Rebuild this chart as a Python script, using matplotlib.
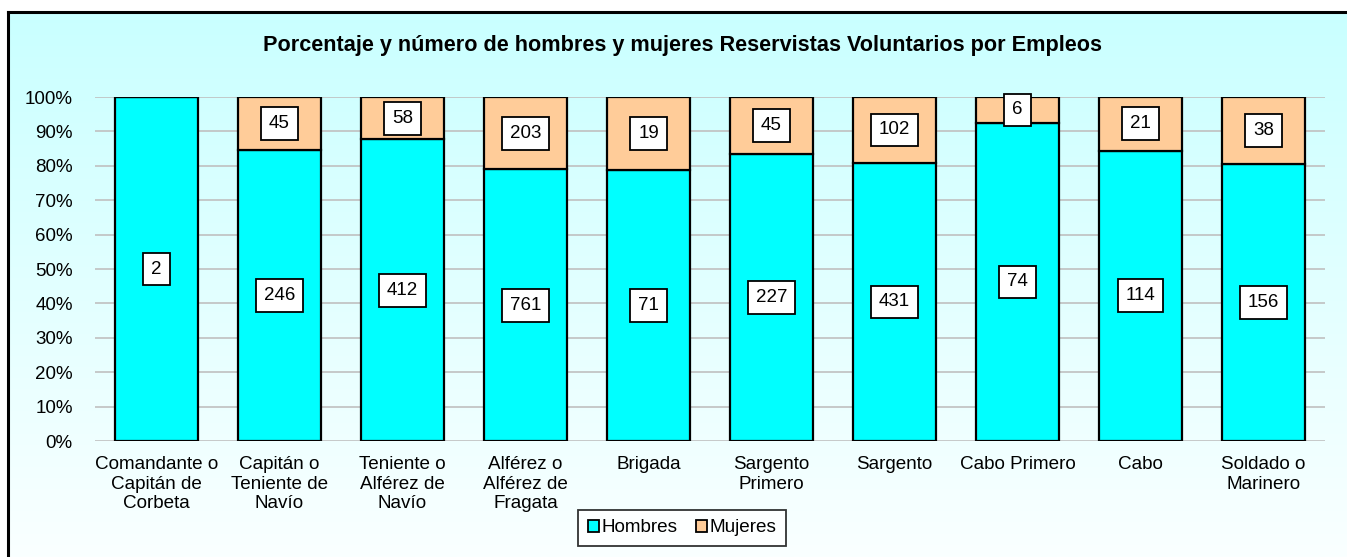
import matplotlib
matplotlib.use("Agg")
import matplotlib.pyplot as plt
import numpy as np
from matplotlib.patches import Rectangle

categories = ["Comandante o\nCapitán de\nCorbeta", "Capitán o\nTeniente de\nNavío",
              "Teniente o\nAlférez de\nNavío", "Alférez o\nAlférez de\nFragata",
              "Brigada", "Sargento\nPrimero", "Sargento", "Cabo Primero", "Cabo",
              "Soldado o\nMarinero"]
hombres = [2, 246, 412, 761, 71, 227, 431, 74, 114, 156]
mujeres = [0, 45, 58, 203, 19, 45, 102, 6, 21, 38]
title = "Porcentaje y número de hombres y mujeres Reservistas Voluntarios por Empleos"

plt.rcParams['font.family'] = ['Liberation Sans', 'DejaVu Sans']

W, H = 1347, 557
fig = plt.figure(figsize=(W / 100, H / 100), dpi=100)

# gradient background
bg = fig.add_axes([0, 0, 1, 1], zorder=-10)
grad = np.linspace(0, 1, 256).reshape(-1, 1)
top = np.array([200, 255, 255]) / 255
bot = np.array([250, 255, 255]) / 255
img = top[None, None, :] * (1 - grad[:, :, None]) + bot[None, None, :] * grad[:, :, None]
bg.imshow(img, aspect='auto', extent=[0, 1, 0, 1], origin='upper')
bg.set_xlim(0, 1); bg.set_ylim(0, 1)
bg.axis('off')
fx0 = 8 / W
fy1 = 1 - 12 / H
bg.add_patch(Rectangle((0, fy1), 1, 1 - fy1, color='white', zorder=2))
bg.add_patch(Rectangle((0, 0), fx0, 1, color='white', zorder=2))
bg.plot([fx0, fx0], [0, fy1], color='black', lw=2.2, zorder=3)
bg.plot([fx0, 1], [fy1, fy1], color='black', lw=2.2, zorder=3)

ax = fig.add_axes([95 / W, 1 - 441 / H, (1325 - 95) / W, (441 - 97) / H])
ax.patch.set_alpha(0)

tot = np.array(hombres) + np.array(mujeres)
ph = np.array(hombres) / tot * 100
pm = np.array(mujeres) / tot * 100
x = np.arange(len(categories))
bw = 0.67
ax.bar(x, ph, width=bw, color='#00FFFF', edgecolor='black', linewidth=1.6, label='Hombres', zorder=3)
ax.bar(x, pm, bottom=ph, width=bw, color='#FFCC99', edgecolor='black', linewidth=1.6, label='Mujeres', zorder=3)

box = dict(boxstyle='square,pad=0.42', facecolor='white', edgecolor='black', linewidth=1.3)
for i in range(len(x)):
    ax.text(x[i], ph[i] / 2, str(hombres[i]), ha='center', va='center', fontsize=13.5,
            bbox=box, zorder=5)
    if mujeres[i] > 0:
        ax.text(x[i], ph[i] + pm[i] / 2, str(mujeres[i]), ha='center', va='center',
                fontsize=13.5, bbox=box, zorder=5)

ax.set_xlim(-0.5, len(x) - 0.5)
ax.set_ylim(0, 100)
ax.set_yticks(np.arange(0, 101, 10))
ax.set_yticklabels([f"{v}%" for v in range(0, 101, 10)], fontsize=13.5)
ax.set_xticks(x)
ax.set_xticklabels(categories, fontsize=13.6)
ax.tick_params(axis='y', length=0, pad=16)
ax.tick_params(axis='x', length=0, pad=11)
ax.grid(axis='y', color='#C0C0C0', linewidth=1.2, zorder=0)
for s in ax.spines.values():
    s.set_visible(False)

fig.text(683 / W, 1 - 45 / H, title, ha='center', va='center', fontsize=15.6, fontweight='bold')

leg = fig.legend(loc='center', bbox_to_anchor=(682 / W, 1 - 528 / H), ncol=2, fontsize=13.6,
                 frameon=True, fancybox=False, edgecolor='black', handlelength=0.6,
                 handleheight=0.6, handletextpad=0.1, columnspacing=1.0, borderpad=0.5,
                 borderaxespad=0)
leg.get_frame().set_linewidth(1.3)
leg.get_frame().set_facecolor('white')
leg.set_frame_on(True)
for h in leg.legend_handles:
    h.set_linewidth(1.3)

fig.canvas.draw()
bb = leg.get_frame().get_bbox()
# widen frame to match reference box (574..790 px)
frame = leg.get_frame()
cx = (bb.x0 + bb.x1) / 2
frame.set_bounds(cx - 108, bb.y0, 216, bb.height)

fig.savefig("out.png", dpi=100)
